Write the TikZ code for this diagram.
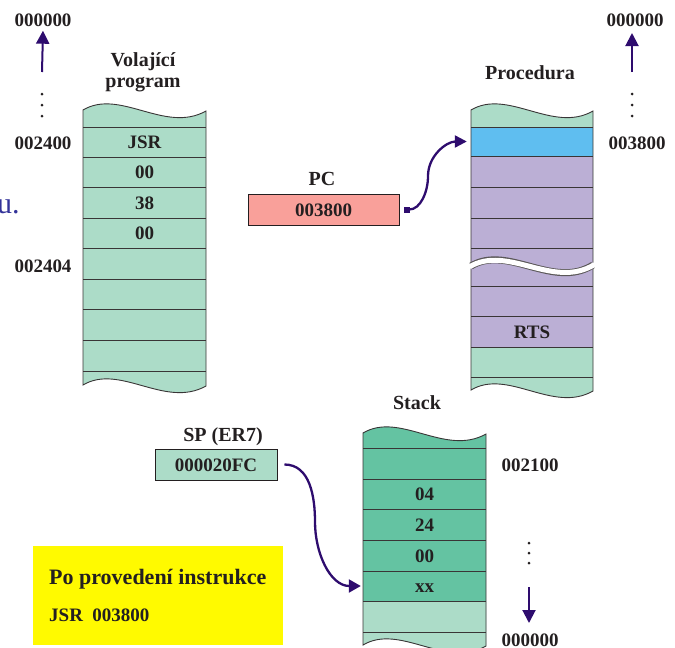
\documentclass[tikz,border=0pt]{standalone}
\usepackage{fontspec}
\setmainfont{Liberation Serif}
\usetikzlibrary{arrows.meta}
\definecolor{lgreen}{RGB}{172,220,200}
\definecolor{dgreen}{RGB}{100,195,162}
\definecolor{cblue}{RGB}{95,190,240}
\definecolor{cpurple}{RGB}{187,175,213}
\definecolor{salmon}{RGB}{249,160,154}
\definecolor{ink}{RGB}{35,31,32}
\definecolor{arrowc}{RGB}{46,12,110}
\definecolor{slideblue}{RGB}{51,51,153}
\definecolor{yel}{RGB}{255,250,0}
\begin{document}
\begin{tikzpicture}[x=1pt,y=-1pt,
  lbl/.style={font=\bfseries\fontsize{19}{19}\selectfont, text=ink, inner sep=0pt, text height=13pt, text depth=0pt},
  ttl/.style={font=\bfseries\fontsize{20}{21}\selectfont, text=ink, inner sep=0pt, align=center},
  edge/.style={draw=ink!90, line width=0.9pt},
  addrarrow/.style={draw=arrowc, line width=2pt, -{Triangle[length=13pt,width=13pt]}},
  link/.style={draw=arrowc, line width=2.3pt},
  regbox/.style={lbl, draw=ink, line width=0.9pt, minimum height=31pt},
  cell/.style={inner sep=0pt, minimum height=30pt, minimum width=122pt},
  dot/.style={fill=ink}
]
\useasboundingbox (0,0) rectangle (675,648);
\clip (0,0) rectangle (675,648);

% slide fragment
\node[font=\fontsize{30}{30}\selectfont, text=slideblue, anchor=base west, inner sep=0pt] (frag) at (-3,213) {u.};

% ---------- left column (Volajici program) ----------
\fill[lgreen] (83,110) .. controls (120,88) and (165,134) .. (206,111) -- (206,386) .. controls (165,409) and (120,363) .. (83,385) -- cycle;
\foreach \y in {127,157,187,218,248,279,309,340,371} \draw[edge] (83,\y) -- (206,\y);
\draw[edge] (83,110) .. controls (120,88) and (165,134) .. (206,111) -- (206,386) .. controls (165,409) and (120,363) .. (83,385) -- cycle;
\node[lbl] (l1) at (144.5,142) {JSR};
\node[lbl] (l2) at (144.5,172) {00};
\node[lbl] (l3) at (144.5,202.5) {38};
\node[lbl] (l4) at (144.5,233) {00};
\node[ttl] (ltitle) at (143,72.5) {Volající\\program};

\node[lbl] (la0) at (43,20) {000000};
\node[lbl] (la1) at (43,143) {002400};
\node[lbl] (la2) at (43,266) {002404};
\coordinate (lfrom) at (42,72);
\draw[addrarrow] (lfrom) -- ([yshift=-4pt]la0.south);
\fill[dot] (42,94) circle (1.5) (42,105) circle (1.5) (42,116) circle (1.5);

% ---------- right column (Procedura) ----------
\fill[lgreen] (471,110) .. controls (508,88) and (553,134) .. (593,111) -- (593,391) .. controls (553,414) and (508,368) .. (471,390) -- cycle;
\fill[cpurple] (471,156) rectangle (593,347);
\node[cell, fill=cblue, minimum height=29pt] (entry) at (532,141.5) {};
\foreach \y in {127,156,187,218,248,286,316,347,377} \draw[edge] (471,\y) -- (593,\y);
\draw[edge] (471,110) .. controls (508,88) and (553,134) .. (593,111) -- (593,391) .. controls (553,414) and (508,368) .. (471,390) -- cycle;
% break
\draw[line width=7pt, ink!75] (471,266) .. controls (508,244) and (553,290) .. (593,265);
\draw[line width=5pt, white] (469.5,266.8) .. controls (508,244) and (553,290) .. (594.5,264.5);
\node[lbl] (rts) at (532,331.5) {RTS};
\node[ttl] (rtitle) at (530,73) {Procedura};

\node[lbl] (ra0) at (635,20) {000000};
\node[lbl] (ra1) at (637,143) {003800};
\coordinate (rfrom) at (632,72);
\draw[addrarrow] (rfrom) -- (632,33);
\fill[dot] (632,94) circle (1.5) (632,105) circle (1.5) (632,116) circle (1.5);

% ---------- PC ----------
\node[ttl] (pct) at (322,179) {PC};
\node[regbox, fill=salmon, minimum width=151pt] (pc) at (323.5,209.5) {003800};
\coordinate (pcbend) at (428,176);
\draw[link, {Square[length=6pt,width=6pt]}-{Triangle[length=12pt,width=12pt]}]
  ([xshift=5pt]pc.east) to[out=0,in=-90] (pcbend) to[out=90,in=180] ([xshift=-4pt]entry.west);

% ---------- Stack ----------
\fill[dgreen] (363,433) .. controls (400,411) and (445,457) .. (486,434) -- (486,646) .. controls (445,669) and (400,623) .. (363,645) -- cycle;
\fill[lgreen] (363,601) -- (486,601) -- (486,646) .. controls (445,669) and (400,623) .. (363,645) -- cycle;
\node[cell, minimum width=123pt] (top) at (424.5,586) {};
\foreach \y in {448,479,509,540,571,601,632} \draw[edge] (363,\y) -- (486,\y);
\draw[edge] (363,433) .. controls (400,411) and (445,457) .. (486,434) -- (486,646) .. controls (445,669) and (400,623) .. (363,645) -- cycle;
\node[lbl] (s1) at (424.5,494) {04};
\node[lbl] (s2) at (424.5,524.5) {24};
\node[lbl] (s3) at (424.5,555.5) {00};
\node[lbl] (s4) at (424.5,586) {xx};
\node[ttl] (stitle) at (417,403) {Stack};
\node[lbl] (sa1) at (530,465) {002100};
\node[lbl] (sa0) at (530,640) {000000};
\fill[dot] (529,543) circle (1.5) (529,553) circle (1.5) (529,563) circle (1.5);
\coordinate (sfrom) at (529,587);
\draw[addrarrow] (sfrom) -- (529,623);

% ---------- SP ----------
\node[ttl] (spt) at (223,437) {SP (ER7)};
\node[regbox, fill=lgreen, minimum width=122pt] (sp) at (216,464.5) {000020FC};
\coordinate (spbend) at (315,522);
\draw[link, -{Triangle[length=12pt,width=13pt]}]
  ([xshift=7pt]sp.east) to[out=0,in=90] (spbend) to[out=-90,in=180] ([xshift=-2pt]top.west);

% ---------- note ----------
\fill[yel] (33,546) rectangle (283,645);
\node[font=\bfseries\fontsize{22}{22}\selectfont, text=ink, anchor=base west, inner sep=0pt] (n1) at (49,584) {Po provedení instrukce};
\node[font=\bfseries\fontsize{19}{19}\selectfont, text=ink, anchor=base west, inner sep=0pt] (n2) at (49,621) {JSR\ \ 003800};
\end{tikzpicture}
\end{document}
